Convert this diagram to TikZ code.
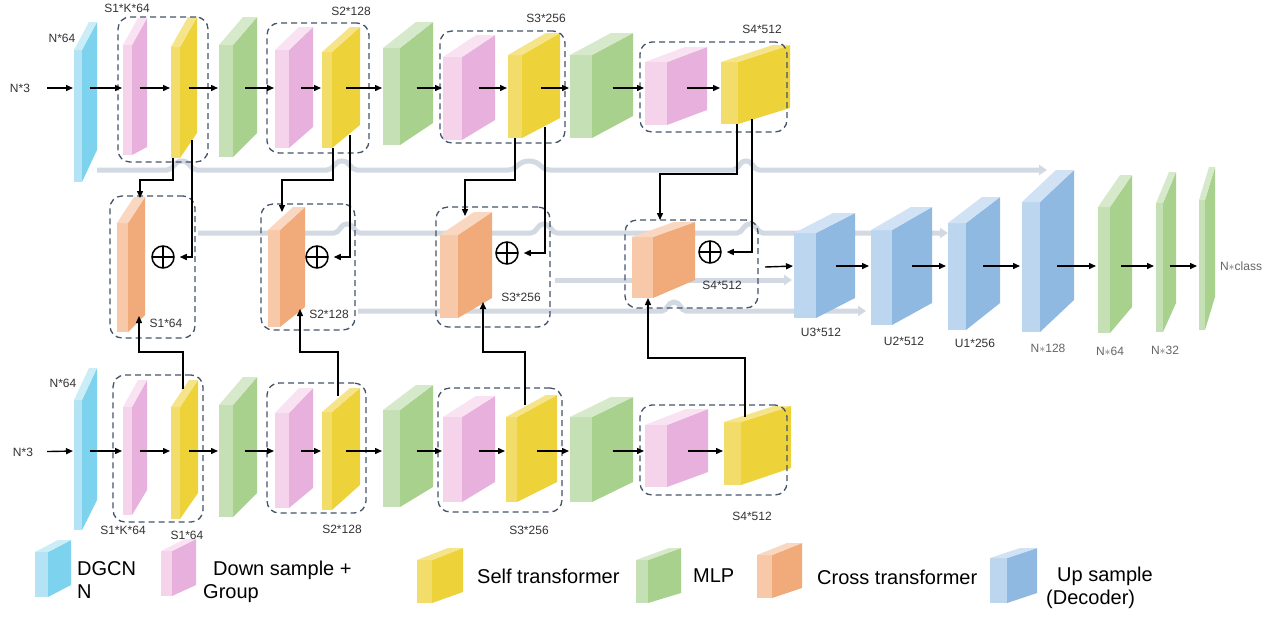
\documentclass[tikz,border=0pt]{standalone}
\usepackage{fontspec}
\setmainfont{Liberation Sans}
\usetikzlibrary{arrows.meta, positioning, calc}

\definecolor{cyL}{HTML}{B3E3F4}\definecolor{cyD}{HTML}{7DD3EE}\definecolor{cyT}{HTML}{CBEDF8}
\definecolor{pkL}{HTML}{F5D3EA}\definecolor{pkD}{HTML}{E8B0DC}\definecolor{pkT}{HTML}{F9E2F2}
\definecolor{ylL}{HTML}{F2DC6A}\definecolor{ylD}{HTML}{EDD339}\definecolor{ylT}{HTML}{F6E48A}
\definecolor{gnL}{HTML}{C4E0B4}\definecolor{gnD}{HTML}{A9D18E}\definecolor{gnT}{HTML}{D6EACB}
\definecolor{orL}{HTML}{F8C9A8}\definecolor{orD}{HTML}{F1AB7A}\definecolor{orT}{HTML}{FAD7C0}
\definecolor{ubL}{HTML}{BDD6EF}\definecolor{ubD}{HTML}{90B9E2}\definecolor{ubT}{HTML}{D0E2F4}
\definecolor{skipc}{HTML}{D2D9E2}
\definecolor{boxc}{HTML}{44546A}

% slab: name, x0, x1 (front right), x2 (back right), front top, front bottom, back top, back bottom, colour
\newcommand{\slab}[9]{%
  \fill[#9D] (#3,#5) -- (#4,#7) -- (#4,#8) -- (#3,#6) -- cycle;
  \fill[#9L] (#2,#5) rectangle (#3,#6);
  \fill[#9T] (#2,#5) -- (#3,#5) -- (#4,#7) -- ({#4-#3+#2},#7) -- cycle;
  \coordinate (#1-w) at (#2,{(#5+#6)/2});
  \coordinate (#1-c) at ({(#3+#4)/2},{(#5+#6+#7+#8)/4});
}

\begin{document}
\begin{tikzpicture}[x=1pt, y=-1pt,
    arr/.style={-{Triangle[length=7pt,width=6pt]}, line width=1.4pt},
    skipline/.style={draw=skipc, line width=5pt, -{Triangle[length=8pt,width=10pt]}},
    grp/.style={draw=boxc, dash pattern=on 6pt off 4pt, line width=1.3pt, rounded corners=12pt, inner sep=0pt},
    oplus/.style={circle, draw, line width=1.5pt, minimum size=22pt, inner sep=0pt,
      path picture={\draw[line width=1.5pt] (path picture bounding box.north) -- (path picture bounding box.south)
        (path picture bounding box.west) -- (path picture bounding box.east);}},
    lbl/.style={font=\fontsize{12}{14}\selectfont, text=black!80, inner sep=0pt},
    dlbl/.style={lbl, text=black!60},
    leg/.style={font=\fontsize{20}{23}\selectfont, anchor=west, inner sep=0pt, align=left},
    hop/.style args={#1/#2/#3}{insert path={-- ({#1-#2},#3) .. controls ({#1-0.55*#2},#3) and ({#1-0.55*#2},{#3-9}) .. (#1,{#3-9}) .. controls ({#1+0.55*#2},{#3-9}) and ({#1+0.55*#2},#3) .. ({#1+#2},#3)}}
]
\fill[white] (0,0) rectangle (1281,619);
\useasboundingbox (0,0) rectangle (1281,619);

\coordinate (rowT) at (0,88);
\coordinate (rowB) at (0,451);
\coordinate (rowD) at (0,266);

% skip connections
\coordinate (s1a) at (97,170);  \coordinate (s1b) at (1047,170);
\coordinate (s2a) at (198,233); \coordinate (s2b) at (948,233);
\coordinate (s3a) at (555,280); \coordinate (s3b) at (792,280);
\coordinate (s4a) at (358,311); \coordinate (s4b) at (866,311);
\draw[skipline] (s1a) [hop=182/15/170] [hop=342/15/170] [hop=529/21/170] [hop=746/13/170] -- (s1b);
\draw[skipline] (s2a) [hop=347/13/233] [hop=544/13/233] [hop=750/13/233] -- (s2b);
\draw[skipline] (s3a) -- (s3b);
\draw[skipline] (s4a) [hop=674/12/311] -- (s4b);

% upper branch
\slab{dgT}{74}{82}{97}{50}{182}{22}{150}{cy}
\slab{pkT1}{123}{132}{147}{45}{155}{18}{147}{pk}
\slab{ylT1}{171}{180}{197}{47}{158}{17}{133}{yl}
\slab{gnT1}{219}{233}{257}{45}{157}{17}{133}{gn}
\slab{pkT2}{275}{289}{313}{50}{148}{27}{127}{pk}
\slab{ylT2}{322}{332}{360}{52}{148}{27}{125}{yl}
\slab{gnT2}{383}{400}{433}{48}{145}{22}{123}{gn}
\slab{pkT3}{443}{462}{495}{57}{140}{35}{120}{pk}
\slab{ylT3}{508}{522}{560}{55}{138}{33}{118}{yl}
\slab{gnT3}{570}{592}{633}{55}{138}{33}{116}{gn}
\slab{pkT4}{645}{667}{707}{62}{125}{47}{110}{pk}
\slab{ylT4}{721}{738}{790}{62}{124}{45}{108}{yl}

% lower branch
\slab{dgB}{74}{82}{97}{400}{530}{368}{500}{cy}
\slab{pkB1}{123}{132}{147}{407}{515}{380}{490}{pk}
\slab{ylB1}{171}{180}{198}{407}{519}{380}{493}{yl}
\slab{gnB1}{219}{233}{257}{405}{517}{377}{493}{gn}
\slab{pkB2}{275}{289}{313}{413}{508}{388}{488}{pk}
\slab{ylB2}{322}{332}{360}{412}{510}{388}{485}{yl}
\slab{gnB2}{383}{400}{433}{410}{507}{385}{487}{gn}
\slab{pkB3}{443}{462}{495}{417}{502}{396}{482}{pk}
\slab{ylB3}{506}{517}{557}{417}{502}{395}{482}{yl}
\slab{gnB3}{570}{592}{633}{417}{502}{397}{482}{gn}
\slab{pkB4}{645}{667}{708}{425}{487}{409}{472}{pk}
\slab{ylB4}{724}{741}{791}{422}{485}{406}{468}{yl}

% cross transformers
\slab{cr1}{117}{128}{145}{223}{332}{197}{315}{or}
\slab{cr2}{268}{280}{305}{230}{327}{207}{307}{or}
\slab{cr3}{440}{458}{492}{235}{318}{212}{298}{or}
\slab{cr4}{632}{653}{695}{237}{298}{222}{280}{or}

% decoder
\slab{up3}{794}{816}{855}{233}{318}{213}{298}{ub}
\slab{up2}{871}{892}{932}{230}{325}{207}{303}{ub}
\slab{up1}{948}{966}{1000}{223}{330}{197}{303}{ub}
\slab{up0}{1022}{1040}{1074}{202}{332}{170}{300}{ub}
\slab{ml1}{1098}{1110}{1132}{207}{333}{175}{307}{gn}
\slab{ml2}{1156}{1163}{1176}{203}{332}{172}{303}{gn}
\slab{ml3}{1199}{1205}{1215}{200}{330}{167}{297}{gn}

% legend
\slab{lgA}{35}{48}{71}{552}{597}{540}{585}{cy}
\slab{lgB}{161}{172}{196}{551}{596}{539}{585}{pk}
\slab{lgC}{417}{432}{463}{560}{603}{548}{592}{yl}
\slab{lgD}{636}{648}{681}{560}{603}{548}{593}{gn}
\slab{lgE}{757}{772}{802}{555}{598}{543}{588}{or}
\slab{lgF}{990}{1007}{1037}{558}{603}{548}{593}{ub}

% groups
\node[grp, minimum width=90pt, minimum height=145pt] (gT1) at (163,89.5) {};
\node[grp, minimum width=102pt, minimum height=130pt] (gT2) at (318,88) {};
\node[grp, minimum width=125pt, minimum height=112pt] (gT3) at (502.5,87) {};
\node[grp, minimum width=147pt, minimum height=90pt] (gT4) at (713.5,87) {};
\node[grp, minimum width=85pt, minimum height=142pt] (gM1) at (152.5,267) {};
\node[grp, minimum width=94pt, minimum height=126pt] (gM2) at (308,267) {};
\node[grp, minimum width=114pt, minimum height=120pt] (gM3) at (493,267) {};
\node[grp, minimum width=133pt, minimum height=88pt] (gM4) at (691.5,264) {};
\node[grp, minimum width=90pt, minimum height=147pt] (gB1) at (158,448.5) {};
\node[grp, minimum width=99pt, minimum height=130pt] (gB2) at (316.5,448) {};
\node[grp, minimum width=124pt, minimum height=124pt] (gB3) at (500,450) {};
\node[grp, minimum width=147pt, minimum height=90pt] (gB4) at (713.5,450) {};

\node[oplus] (add1) at (163,257) {};
\node[oplus] (add2) at (317,257) {};
\node[oplus] (add3) at (507,253) {};
\node[oplus] (add4) at (710,252) {};

% row arrows
\node[lbl] (inT) at (20,88) {N*3};
\node[lbl] (inB) at (23,452) {N*3};
\draw[arr, shorten <=17pt, shorten >=1pt] (inT) -- (dgT-w |- rowT);
\draw[arr, shorten <=14pt, shorten >=1pt] (inB) -- (dgB-w |- rowB);
\foreach \a/\b in {dgT/pkT1, pkT1/ylT1, ylT1/gnT1, gnT1/pkT2, pkT2/ylT2, ylT2/gnT2, gnT2/pkT3, pkT3/ylT3, ylT3/gnT3, gnT3/pkT4, pkT4/ylT4}
  \draw[arr, shorten >=1pt] (\a-c |- rowT) -- (\b-w |- rowT);
\foreach \a/\b in {dgB/pkB1, pkB1/ylB1, ylB1/gnB1, gnB1/pkB2, pkB2/ylB2, ylB2/gnB2, gnB2/pkB3, pkB3/ylB3, ylB3/gnB3, gnB3/pkB4, pkB4/ylB4}
  \draw[arr, shorten >=1pt] (\a-c |- rowB) -- (\b-w |- rowB);
\coordinate (fuse) at (765,267);
\draw[arr, shorten >=1pt] (fuse) -- (up3-w |- rowD);
\foreach \a/\b in {up3/up2, up2/up1, up1/up0, up0/ml1, ml1/ml2, ml2/ml3}
  \draw[arr, shorten >=2pt] (\a-c |- rowD) -- (\b-w |- rowD);

% upper branch to cross transformers
\coordinate (tA1) at (173,158); \coordinate (tB1) at (192,140); \coordinate (cA1) at (140,198);
\coordinate (tA2) at (333,148); \coordinate (tB2) at (350,135); \coordinate (cA2) at (282,212);
\coordinate (tA3) at (515,138); \coordinate (tB3) at (545,127); \coordinate (cA3) at (465,216);
\coordinate (tA4) at (737,124); \coordinate (tB4) at (752,119); \coordinate (cA4) at (660,220);
\draw[arr] (tA1) -- ++(0,22) -| (cA1);
\draw[arr] (tA2) -- ++(0,32) -| (cA2);
\draw[arr] (tA3) -- ++(0,42) -| (cA3);
\draw[arr] (tA4) -- ++(0,50) -| (cA4);
\draw[arr, shorten >=5pt] (tB1) |- (add1);
\draw[arr, shorten >=5pt] (tB2) |- (add2);
\draw[arr, shorten >=5pt] (tB3) |- (add3);
\draw[arr, shorten >=5pt] (tB4) |- (add4);

% lower branch to cross transformers
\coordinate (bA1) at (183,389); \coordinate (cB1) at (139,316);
\coordinate (bA2) at (338,396); \coordinate (cB2) at (300,309);
\coordinate (bA3) at (525,405); \coordinate (cB3) at (483,302);
\coordinate (bA4) at (745,417); \coordinate (cB4) at (648,298);
\draw[arr] (bA1) -- ++(0,-37) -| (cB1);
\draw[arr] (bA2) -- ++(0,-44) -| (cB2);
\draw[arr] (bA3) -- ++(0,-53) -| (cB3);
\draw[arr] (bA4) -- ++(0,-59) -| (cB4);

% labels
\node[lbl] (lT0) at (62,38) {N*64};
\node[lbl] (lT1) at (127,8) {S1*K*64};
\node[lbl] (lT2) at (351,11) {S2*128};
\node[lbl] (lT3) at (546,18) {S3*256};
\node[lbl] (lT4) at (762,29) {S4*512};
\node[lbl] (lM1) at (166,323) {S1*64};
\node[lbl] (lM2) at (329,314) {S2*128};
\node[lbl] (lM3) at (521,297) {S3*256};
\node[lbl] (lM4) at (722,285) {S4*512};
\node[lbl] (lB0) at (63,383) {N*64};
\node[lbl] (lB1) at (123,530) {S1*K*64};
\node[lbl] (lB1b) at (187,535) {S1*64};
\node[lbl] (lB2) at (342,529) {S2*128};
\node[lbl] (lB3) at (529,530) {S3*256};
\node[lbl] (lB4) at (752,516) {S4*512};
\node[lbl] (lU3) at (821,332) {U3*512};
\node[lbl] (lU2) at (904,341) {U2*512};
\node[lbl] (lU1) at (975,343) {U1*256};
\node[dlbl] (lN1) at (1048,348) {N$\ast$128};
\node[dlbl] (lN2) at (1110,351) {N$\ast$64};
\node[dlbl] (lN3) at (1165,350) {N$\ast$32};
\node[dlbl] (lN4) at (1241,266) {N$\ast$class};

% legend texts
\node[leg] (tA) at (77,580.5) {DGCN\\N};
\node[leg] (tB) at (203,582) {\hspace{10pt}Down sample +\\Group};
\node[leg] (tC) at (477,576) {Self transformer};
\node[leg] (tD) at (693,576) {MLP};
\node[leg] (tE) at (817,577) {Cross transformer};
\node[leg] (tF) at (1046,587.5) {\hspace{11pt}Up sample\\(Decoder)};
\end{tikzpicture}
\end{document}
